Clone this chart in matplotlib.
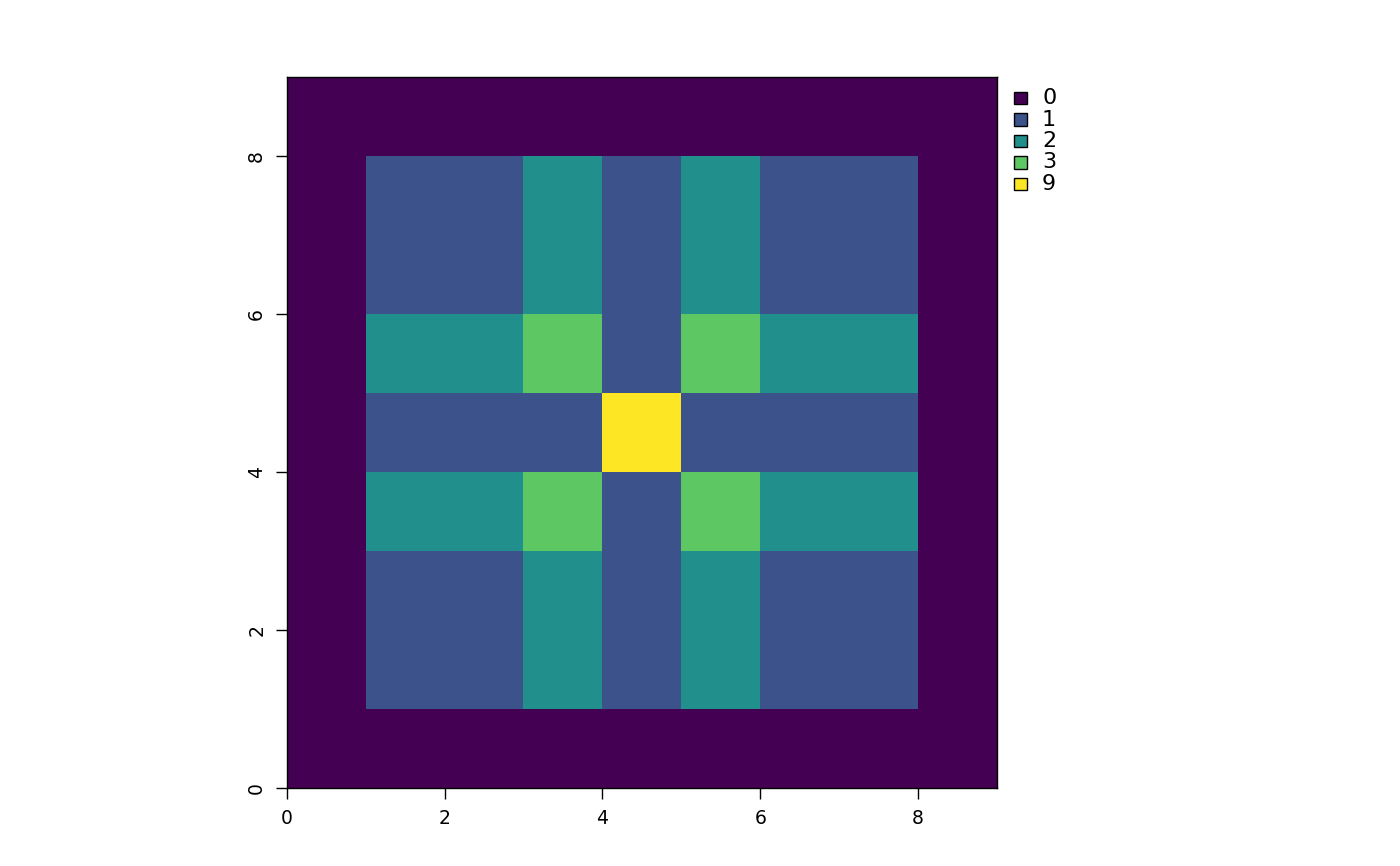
import numpy as np
import matplotlib.pyplot as plt
from matplotlib.colors import ListedColormap, BoundaryNorm
from matplotlib.patches import Rectangle

# raster values, top row first
grid = [
    [0, 0, 0, 0, 0, 0, 0, 0, 0],
    [0, 1, 1, 2, 1, 2, 1, 1, 0],
    [0, 1, 1, 2, 1, 2, 1, 1, 0],
    [0, 2, 2, 3, 1, 3, 2, 2, 0],
    [0, 1, 1, 1, 9, 1, 1, 1, 0],
    [0, 2, 2, 3, 1, 3, 2, 2, 0],
    [0, 1, 1, 2, 1, 2, 1, 1, 0],
    [0, 1, 1, 2, 1, 2, 1, 1, 0],
    [0, 0, 0, 0, 0, 0, 0, 0, 0],
]
classes = [0, 1, 2, 3, 9]
colors = ['#440154', '#3B528B', '#21908C', '#5DC863', '#FDE725']
ticks = [0, 2, 4, 6, 8]

arr = np.array(grid)
idx = np.searchsorted(classes, arr)
cmap = ListedColormap(colors)
norm = BoundaryNorm(np.arange(len(classes) + 1) - 0.5, len(classes))

fig = plt.figure(figsize=(14, 8.66), dpi=100)
ax = fig.add_axes([0.205, 0.090, 0.507, 0.821])
ax.imshow(idx, cmap=cmap, norm=norm, extent=(0, 9, 0, 9),
          interpolation='nearest', aspect='auto')
ax.set_xlim(0, 9)
ax.set_ylim(0, 9)
ax.set_xticks(ticks)
ax.set_yticks(ticks)
ax.set_xticklabels([str(t) for t in ticks], fontsize=13.5)
ax.set_yticklabels([str(t) for t in ticks], fontsize=13.5, rotation=90,
                   va='center')
ax.tick_params(length=8, width=1, pad=7)
for s in ax.spines.values():
    s.set_linewidth(1)

# legend
y0 = 1 - 98 / 866
dy = 21.5 / 866
for i, (c, lab) in enumerate(zip(colors, classes)):
    y = y0 - i * dy
    fig.patches.append(Rectangle((1014 / 1400, y - 6 / 866), 13 / 1400, 12 / 866,
                                 facecolor=c, edgecolor='black', lw=1,
                                 transform=fig.transFigure))
    fig.text(1042 / 1400, y, str(lab), fontsize=16, va='center', ha='left')

fig.savefig('out.png', dpi=100)
